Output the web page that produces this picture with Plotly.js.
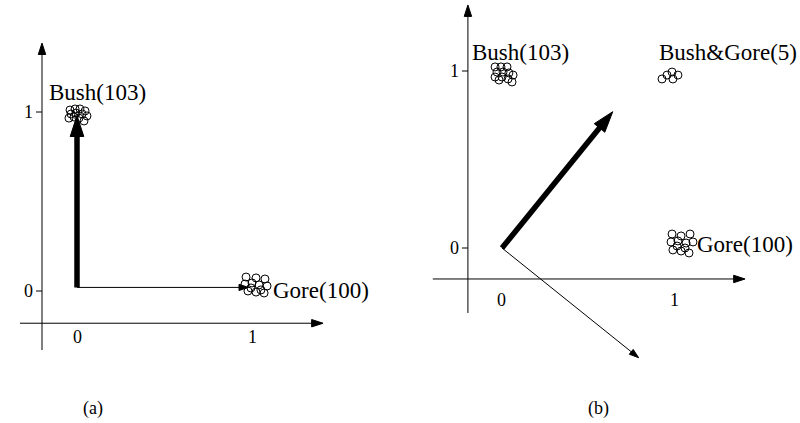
<!DOCTYPE html>
<html><head><meta charset="utf-8">
<script src="https://cdn.plot.ly/plotly-3.0.1.min.js"></script>
<style>html,body{margin:0;padding:0;background:#fff}</style>
</head><body><div id="chart"></div>
<script>
// ---- Data ----
const tickVals = [0, 1];
const tickText = ['0', '1'];

// Panel (a): clusters
const aBushX = [-0.040, -0.011, 0.017, 0.046, -0.034, -0.006, 0.029, 0.057, -0.046, 0.011, 0.040, -0.017];
const aBushY = [1.011, 1.017, 1.017, 1.006, 0.989, 0.994, 0.989, 0.978, 0.966, 0.966, 0.950, 0.972];
const aGoreX = [0.966, 1.023, 1.074, 0.960, 1.000, 1.040, 1.086, 0.977, 1.023, 1.069, 0.994, 1.051];
const aGoreY = [0.078, 0.073, 0.067, 0.039, 0.045, 0.034, 0.028, 0.000, -0.006, -0.011, 0.017, 0.006];
// Panel (a): direction vectors (start, tip)
const aThickX = [0, 0];
const aThickY = [0.02, 0.98];
const aThinX = [0, 0.98];
const aThinY = [0.02, 0.02];

// Panel (b): clusters
const bBushX = [-0.040, -0.006, 0.029, -0.029, 0.006, 0.040, 0.064, -0.040, 0.000, 0.035, 0.058, -0.017];
const bBushY = [1.023, 1.023, 1.023, 0.994, 0.994, 0.989, 0.977, 0.966, 0.966, 0.955, 0.938, 0.949];
const bBothX = [0.925, 0.954, 0.983, 0.988, 1.017];
const bBothY = [0.955, 0.977, 0.994, 0.955, 0.977];
const bGoreX = [0.983, 1.035, 1.087, 0.977, 1.017, 1.064, 1.104, 0.988, 1.035, 1.081, 1.012, 1.058];
const bGoreY = [0.079, 0.068, 0.079, 0.034, 0.040, 0.028, 0.034, -0.011, -0.017, -0.028, 0.011, 0.000];
// Panel (b): direction vectors (start, tip)
const bThickX = [0, 0.64];
const bThickY = [0, 0.77];
const bThinX = [0, 0.79];
const bThinY = [0, -0.62];

// ---- Layout geometry ----
const W = 800, H = 423;
function xDom(x0, s, r) { return [(x0 + r[0] * s) / W, (x0 + r[1] * s) / W]; }
function yDom(y0, s, r) { return [(H - (y0 - r[0] * s)) / H, (H - (y0 - r[1] * s)) / H]; }

const A = { x0: 77, xs: 175, xr: [-0.4, 1.5], y0: 291, ys: 179, yr: [-0.4, 1.45],
            axX: [-0.326, 1.406], axYpos: -0.18, axY: [-0.33, 1.385], axXpos: -0.2, xLblShift: -14 };
const B = { x0: 502, xs: 173, xr: [-0.45, 1.5], y0: 248, ys: 177, yr: [-0.7, 1.38],
            axX: [-0.40, 1.405], axYpos: -0.175, axY: [-0.367, 1.373], axXpos: -0.197, xLblShift: -21 };

const serif = 'Liberation Serif';
const ink = '#000';

function arrow(xs, ys, ax, width, head) {
  return {
    type: 'scatter', mode: 'lines+markers', x: xs, y: ys, xaxis: ax.x, yaxis: ax.y,
    line: { color: '#000', width: width, backoff: 'auto' },
    marker: { symbol: ['circle', 'arrow'], size: [0, head], angleref: 'previous', opacity: 1,
              color: '#000', line: { width: 1, color: '#000' } },
    hoverinfo: 'skip', cliponaxis: false
  };
}
function cluster(xs, ys, ax) {
  return {
    type: 'scatter', mode: 'markers', x: xs, y: ys, xaxis: ax.x, yaxis: ax.y,
    marker: { symbol: 'circle-open', size: 8, color: '#000', line: { width: 1, color: '#000' } },
    hoverinfo: 'skip', cliponaxis: false
  };
}

const axA = { x: 'x', y: 'y' }, axB = { x: 'x2', y: 'y2' };
const traces = [];
[[A, axA], [B, axB]].forEach(([P, ax]) => {
  traces.push(arrow(P.axX, [P.axYpos, P.axYpos], ax, 1, 12));
  traces.push(arrow([P.axXpos, P.axXpos], P.axY, ax, 1, 12));
});
traces.push(cluster(aBushX, aBushY, axA));
traces.push(cluster(aGoreX, aGoreY, axA));
traces.push(arrow(aThinX, aThinY, axA, 1, 10));
traces.push(arrow(aThickX, aThickY, axA, 5.5, 22));
traces.push(cluster(bBushX, bBushY, axB));
traces.push(cluster(bBothX, bBothY, axB));
traces.push(cluster(bGoreX, bGoreY, axB));
traces.push(arrow(bThinX, bThinY, axB, 1, 10));
traces.push(arrow(bThickX, bThickY, axB, 5.5, 22));

const shapes = [], annotations = [];
[[A, 'x', 'y'], [B, 'x2', 'y2']].forEach(([P, xr, yr]) => {
  tickVals.forEach((v, i) => {
    shapes.push({ type: 'line', xref: xr, yref: yr, x0: P.axXpos - 6 / P.xs, x1: P.axXpos, y0: v, y1: v,
                  line: { color: '#000', width: 1 } });
    annotations.push({ xref: xr, yref: yr, x: P.axXpos, y: v, text: tickText[i], showarrow: false,
                       xanchor: 'right', yanchor: 'middle', xshift: -7,
                       font: { family: serif, size: 18, color: ink } });
    annotations.push({ xref: xr, yref: yr, x: v, y: P.axYpos, text: tickText[i], showarrow: false,
                       xanchor: 'center', yanchor: 'middle', yshift: P.xLblShift,
                       font: { family: serif, size: 18, color: ink } });
  });
});

function label(xr, yr, x, y, text) {
  annotations.push({ xref: xr, yref: yr, x: x, y: y, text: text, showarrow: false,
                     xanchor: 'left', yanchor: 'middle',
                     font: { family: serif, size: 23, color: ink } });
}
label('x', 'y', -0.17, 1.11, 'Bush(103)');
label('x', 'y', 1.11, 0.005, 'Gore(100)');
label('x2', 'y2', -0.185, 1.107, 'Bush(103)');
label('x2', 'y2', 0.897, 1.107, 'Bush&amp;Gore(5)');
label('x2', 'y2', 1.115, 0.017, 'Gore(100)');

annotations.push({ xref: 'paper', yref: 'paper', x: 93 / W, y: (H - 408) / H, text: '(a)', showarrow: false,
                   xanchor: 'center', yanchor: 'middle', font: { family: serif, size: 18, color: ink } });
annotations.push({ xref: 'paper', yref: 'paper', x: 598 / W, y: (H - 408) / H, text: '(b)', showarrow: false,
                   xanchor: 'center', yanchor: 'middle', font: { family: serif, size: 18, color: ink } });

const hidden = { visible: false, showgrid: false, zeroline: false, fixedrange: true };
const layout = {
  width: W, height: H, margin: { l: 0, r: 0, t: 0, b: 0 },
  font: { family: serif, color: ink },
  paper_bgcolor: '#fff', plot_bgcolor: 'rgba(0,0,0,0)', showlegend: false,
  xaxis: Object.assign({}, hidden, { range: A.xr, domain: xDom(A.x0, A.xs, A.xr), anchor: 'y' }),
  yaxis: Object.assign({}, hidden, { range: A.yr, domain: yDom(A.y0, A.ys, A.yr), anchor: 'x' }),
  xaxis2: Object.assign({}, hidden, { range: B.xr, domain: xDom(B.x0, B.xs, B.xr), anchor: 'y2' }),
  yaxis2: Object.assign({}, hidden, { range: B.yr, domain: yDom(B.y0, B.ys, B.yr), anchor: 'x2' }),
  shapes: shapes, annotations: annotations
};
Plotly.newPlot('chart', traces, layout, { displayModeBar: false, staticPlot: true });
</script>
</body></html>
